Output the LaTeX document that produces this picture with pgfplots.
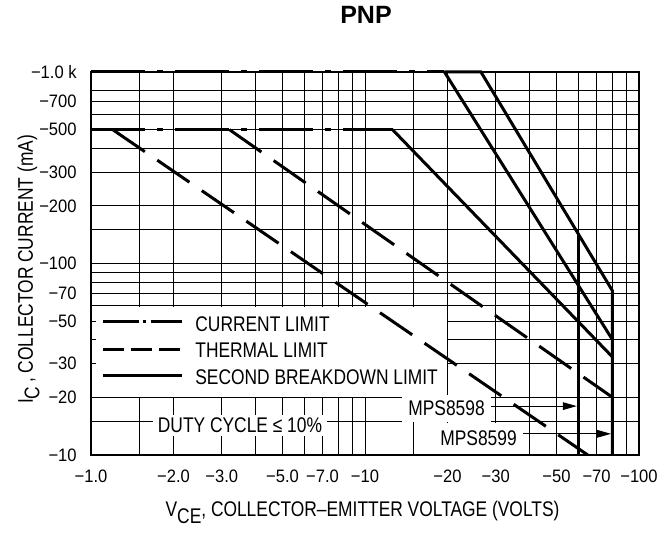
\documentclass[border=0pt]{standalone}
\usepackage{fontspec}
\setmainfont{Liberation Sans}[FakeStretch=0.82]
\newfontfamily\tickfont{Liberation Sans}[FakeStretch=0.92]
\newfontfamily\titlefont{Liberation Sans}
\usepackage{pgfplots}
\pgfplotsset{compat=1.18}
\usetikzlibrary{arrows.meta}
\newcommand\lf{\fontsize{10.6}{12}\selectfont}
\tikzset{
  cl/.style={black, line width=1.5pt, dash pattern=on 27pt off 6pt on 3pt off 6pt},
  tl/.style={black, line width=1.5pt, dash pattern=on 19.5pt off 7.5pt},
  sb/.style={black, line width=1.5pt},
}
\begin{document}
\begin{tikzpicture}
\path[use as bounding box] (-45.5pt,-39pt) rectangle (288.5pt,227.5pt);
\begin{axis}[
  name=ax, at={(0,0)}, anchor=south west,
  scale only axis, width=274pt, height=191.5pt,
  xmode=log, ymode=log, xmin=1, xmax=100, ymin=10, ymax=1000,
  xtick={1,2,3,5,7,10,20,30,50,70,100},
  xticklabels={−1.0,−2.0,−3.0,−5.0,−7.0,−10,−20,−30,−50,−70,−100},
  minor xtick={1.5,4,6,8,9,15,40,60,80,90},
  ytick={10,20,30,50,70,100,200,300,500,700,1000},
  yticklabels={−10,−20,−30,−50,−70,−100,−200,−300,−500,−700,−1.0 k},
  minor ytick={15,40,60,80,90,150,400,600,800},
  grid=both,
  major grid style={black, line width=0.5pt},
  minor grid style={black, line width=0.5pt},
  major tick length=0pt, minor tick length=0pt,
  axis line style={black, line width=0.9pt},
  tick label style={font=\tickfont\fontsize{9}{10}\selectfont, inner sep=0pt},
  xticklabel style={anchor=north, yshift=-7.5pt},
  yticklabel style={anchor=east, xshift=-7pt},
  clip=false,
]
% white legend area
\fill[white] ([xshift=0.5pt,yshift=0.3pt]axis cs:1,20) rectangle ([xshift=-0.3pt,yshift=-0.3pt]axis cs:20,60);
\draw[line width=0.5pt] (axis cs:1,50) -- ([xshift=2.5pt]axis cs:1,50);
\draw[line width=0.5pt] (axis cs:1,40) -- ([xshift=2.5pt]axis cs:1,40);
\draw[line width=0.5pt] (axis cs:1,30) -- ([xshift=2.5pt]axis cs:1,30);
% current limit
\addplot[cl] coordinates {(1,1000) (19.5,1000)};
\addplot[cl] coordinates {(1,500) (12.6,500)};
% thermal limit
\addplot[tl] coordinates {(1.2,500) (65,10)};
\addplot[tl] coordinates {(3.2,500) (80,20)};
% second breakdown limit
\addplot[sb] coordinates {(12.6,500) (80,32.5)};
\addplot[sb] coordinates {(19.5,1000) (80,40)};
\addplot[sb] coordinates {(19.5,1000) (26.5,1000) (80,72) (80,10)};
\addplot[sb] coordinates {(60,143) (60,10)};
% arrows
\draw[line width=0.5pt, -{Triangle[length=7pt,width=3.8pt]}, shorten >=0.7pt] (axis cs:28.8,18) -- (axis cs:60,18);
\draw[line width=0.5pt, -{Triangle[length=7pt,width=3.8pt]}, shorten >=0.7pt] (axis cs:37,12.9) -- (axis cs:80,12.9);
\end{axis}
% legend
\draw[black, line width=1.5pt, dash pattern=on 18pt off 1.8pt on 1.8pt off 2.2pt] (6pt,66.5pt) -- (45.5pt,66.5pt);
\draw[black, line width=1.5pt, dash pattern=on 10.5pt off 3.5pt] (6pt,52.5pt) -- (45.5pt,52.5pt);
\draw[black, line width=1.5pt] (6pt,39.5pt) -- (45.5pt,39.5pt);
\node[anchor=base west, inner sep=0pt, font=\lf] at (52pt,61.5pt) {CURRENT LIMIT};
\node[anchor=base west, inner sep=0pt, font=\lf] at (52pt,48.5pt) {THERMAL LIMIT};
\node[anchor=base west, inner sep=0pt, font=\lf] at (52pt,35pt) {SECOND BREAKDOWN LIMIT};
% annotations
\node[anchor=base, fill=white, inner xsep=2.5pt, inner ysep=1.5pt, text height=7.6pt, text depth=0pt, font=\lf] at (74.5pt,11pt) {DUTY CYCLE ≤ 10\%};
\node[anchor=base, fill=white, inner xsep=3pt, inner ysep=3pt, text height=7.6pt, text depth=0pt, font=\lf] at (177.75pt,19.5pt) {MPS8598};
\node[anchor=base, fill=white, inner xsep=3pt, inner ysep=4pt, text height=7.6pt, text depth=0pt, font=\lf] at (193.75pt,4.5pt) {MPS8599};
% titles
\node[font=\titlefont\bfseries\fontsize{12.5}{14}\selectfont, anchor=base, inner sep=0pt] at (137.5pt,215.5pt) {PNP};
\node[anchor=base, inner sep=0pt, font=\lf] at (135.75pt,-31pt) {V\raisebox{-0.3em}{CE}, COLLECTOR–EMITTER VOLTAGE (VOLTS)};
\node[rotate=90, anchor=base, inner sep=0pt, font=\lf] at (-29pt,92.75pt) {I\raisebox{-0.3em}{C}\,, COLLECTOR CURRENT (mA)};
\end{tikzpicture}
\end{document}
